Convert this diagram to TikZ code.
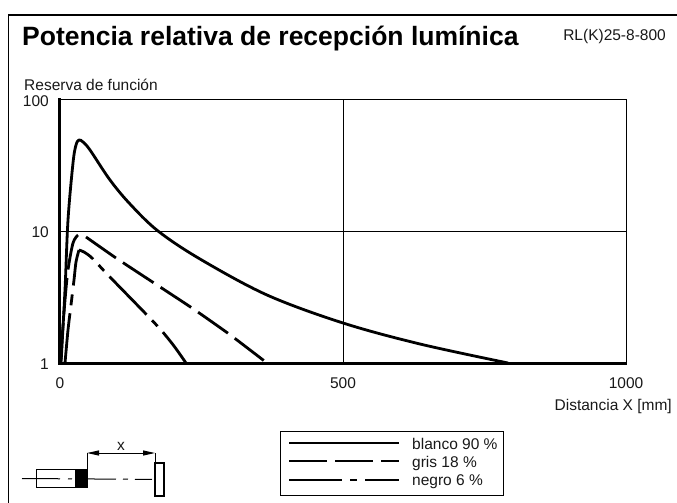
\documentclass[tikz,border=0pt]{standalone}
\usepackage{fontspec}
\setmainfont{Liberation Sans}
\usetikzlibrary{arrows.meta}
\tikzset{
 x=1pt,y=-1pt,
 txt/.style={inner sep=0pt,font=\fontsize{15.5}{18}\selectfont,text=black!90},
 grid/.style={line width=1pt},
 axis/.style={line width=3pt},
 curve/.style={line width=2.8pt,line join=round},
 solidc/.style={curve},
 dashc/.style={curve,dash pattern=on 36.5pt off 8.5pt},
 dotc/.style={curve,dash pattern=on 53pt off 8pt on 8pt off 8pt},
}
\begin{document}
\begin{tikzpicture}
\useasboundingbox (0,0) rectangle (677,503);
\fill[white] (0,0) rectangle (677,503);
% frame
\draw[line width=1.3pt] (8.5,503) -- (8.5,15) -- (677,15);
% title
\node[inner sep=0pt,anchor=base west,font=\bfseries\fontsize{26.5}{30}\selectfont] (title) at (22,46) {Potencia relativa de recepción lumínica};
\node[txt,anchor=base east] (code) at (666,41) {RL(K)25-8-800};
\node[txt,anchor=base west] (ylab) at (24,90) {Reserva de función};
% grid
\draw[grid] (59,99) -- (626,99) -- (626,363);
\draw[grid] (343,99) -- (343,363);
\draw[grid] (59,231) -- (626,231);
\draw[axis] (59,98) -- (59,363) -- (627,363);
% tick labels
\node[txt,anchor=base east] (y100) at (49,106) {100};
\node[txt,anchor=base east] (y10) at (49,237) {10};
\node[txt,anchor=base east] (y1) at (49,369) {1};
\node[txt,anchor=base] (x0) at (60,388) {0};
\node[txt,anchor=base] (x500) at (343,388) {500};
\node[txt,anchor=base] (x1000) at (626,388) {1000};
\node[txt,anchor=base east] (xlab) at (672,410) {Distancia X [mm]};
% curves
\draw[solidc] plot[smooth,tension=0.55] coordinates {(61,363) (65,290) (68,220) (73,163) (76,145) (79,140) (83,142) (90,150) (110,180) (130,204) (158,231) (200,259) (267,295) (343,323) (420,344) (508,363)};
\draw[dashc] plot[smooth,tension=0.5] coordinates {(78,235) (73,243) (68,270) (65,300) (62,340) (61,363)};
\draw[dashc] plot[smooth,tension=0.3] coordinates {(86,237) (116,258) (154,283) (192,308) (229,334) (267,363)};
\draw[curve,dash pattern=on 36pt off 9pt on 11pt off 8pt on 70pt] plot[smooth,tension=0.5] coordinates {(79,250) (76,262) (74,280) (71,305) (68,330) (65,363)};
\draw[dotc,dash phase=36pt] plot[smooth,tension=0.5] coordinates {(79,250) (84,252) (92,258) (108,275) (145,313) (161,330) (174,346) (186,363)};
% legend
\node[draw,line width=1.1pt,minimum width=223pt,minimum height=64pt,inner sep=0pt,anchor=north west] (legend) at (280,431) {};
\coordinate (l1a) at (289,443); \coordinate (l1b) at (399,443);
\coordinate (l2a) at (289,461); \coordinate (l2b) at (399,461);
\coordinate (l3a) at (289,480); \coordinate (l3b) at (399,480);
\draw[curve] (l1a) -- (l1b);
\draw[curve,dash pattern=on 38pt off 8pt] (l2a) -- (l2b);
\draw[curve,dash pattern=on 53pt off 8pt on 7pt off 8pt] (l3a) -- (l3b);
\node[txt,anchor=base west] (t1) at (412,449) {blanco 90 \%};
\node[txt,anchor=base west] (t2) at (412,467) {gris 18 \%};
\node[txt,anchor=base west] (t3) at (412,485) {negro 6 \%};
% sensor sketch
\node[draw,line width=1.2pt,minimum width=51pt,minimum height=18pt,inner sep=0pt,anchor=north west] (body) at (36,469) {};
\fill (75,469) rectangle (87,487);
\node[draw,line width=1.8pt,minimum width=9pt,minimum height=33pt,inner sep=0pt,anchor=north west] (target) at (154,462) {};
\coordinate (d1) at (87,453); \coordinate (d2) at (155,453);
\coordinate (axl) at (22,478.5);
\draw[line width=1pt,dash pattern=on 38pt off 8pt on 4pt off 14pt on 30pt off 7pt on 5pt off 7pt on 17pt] (axl) -- (target.west);
\draw[line width=1pt] (87,469) -- (d1);
\draw[line width=1pt] (155,462) -- (d2);
\draw[line width=1pt,{Stealth[length=12pt,width=5pt,inset=0pt]}-{Stealth[length=12pt,width=5pt,inset=0pt]}] (d1) -- (d2);
\node[txt,anchor=base] (xl) at (121,450) {x};
\end{tikzpicture}
\end{document}
